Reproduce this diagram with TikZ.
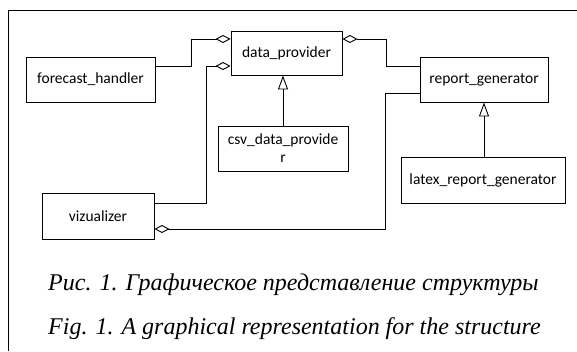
\documentclass[tikz,border=0pt]{standalone}
\usepackage{fontspec}
\setmainfont{Liberation Serif}
\newfontfamily\boxfont{Carlito}
\usetikzlibrary{arrows.meta}
\tikzset{
  cls/.style={draw, line width=0.9pt, font=\boxfont\fontsize{15.5}{18}\selectfont, align=center, inner sep=0pt},
  link/.style={line width=0.9pt},
  agg/.tip={Diamond[open, length=15pt, width=8pt, line width=0.9pt]},
  inh/.tip={Triangle[open, length=14pt, width=10pt, line width=0.9pt]},
  capt/.style={font=\itshape\fontsize{24}{28}\selectfont, anchor=base west, inner sep=0pt}
}
\begin{document}
\begin{tikzpicture}[x=1pt, y=-1pt]
            \useasboundingbox (0,0) rectangle (577,351);
            \draw[line width=0.9pt] (8,351) -- (8,10) -- (577,10);
            % classes
            \node[cls, minimum width=129pt, minimum height=45pt] (fh) at (90.5,79.5) {forecast\_handler};
            \node[cls, minimum width=111pt, minimum height=44pt] (dp) at (286.5,53) {data\_provider};
            \node[cls, minimum width=130pt, minimum height=45pt] (csv) at (283,148.5) {csv\_data\_provide\\r};
            \node[cls, minimum width=128pt, minimum height=45pt] (rg) at (484,79.5) {report\_generator};
            \node[cls, minimum width=164pt, minimum height=46pt] (lrg) at (483,180) {latex\_report\_generator};
            \node[cls, minimum width=112pt, minimum height=46pt] (viz) at (98,216) {vizualizer};
            % aggregations
            \draw[link, -agg] ([yshift=13.5pt]fh.east) -- ++(36,0) |- ([yshift=14pt]dp.west);
            \draw[link, -agg] ([yshift=13pt]viz.east) -- ++(52,0) |- ([yshift=-13pt]dp.west);
            \draw[link, agg-] ([yshift=14pt]dp.east) -- ++(44,0) |- ([yshift=13.5pt]rg.west);
            \draw[link, -agg] ([yshift=-13.5pt]rg.west) -- ++(-34,0) |- ([yshift=-13pt]viz.east);
            % inheritance
            \draw[link, -inh] (csv.north) -- (csv.north |- dp.south);
            \draw[link, -inh] (lrg.north -| rg.south) -- (rg.south);
            % caption
            \node[capt] (cru) at (48,290) {Рис. 1. Графическое представление структуры};
            \node[capt] (cen) at (48,334) {Fig. 1. A graphical representation for the structure};
        \end{tikzpicture}
\end{document}
